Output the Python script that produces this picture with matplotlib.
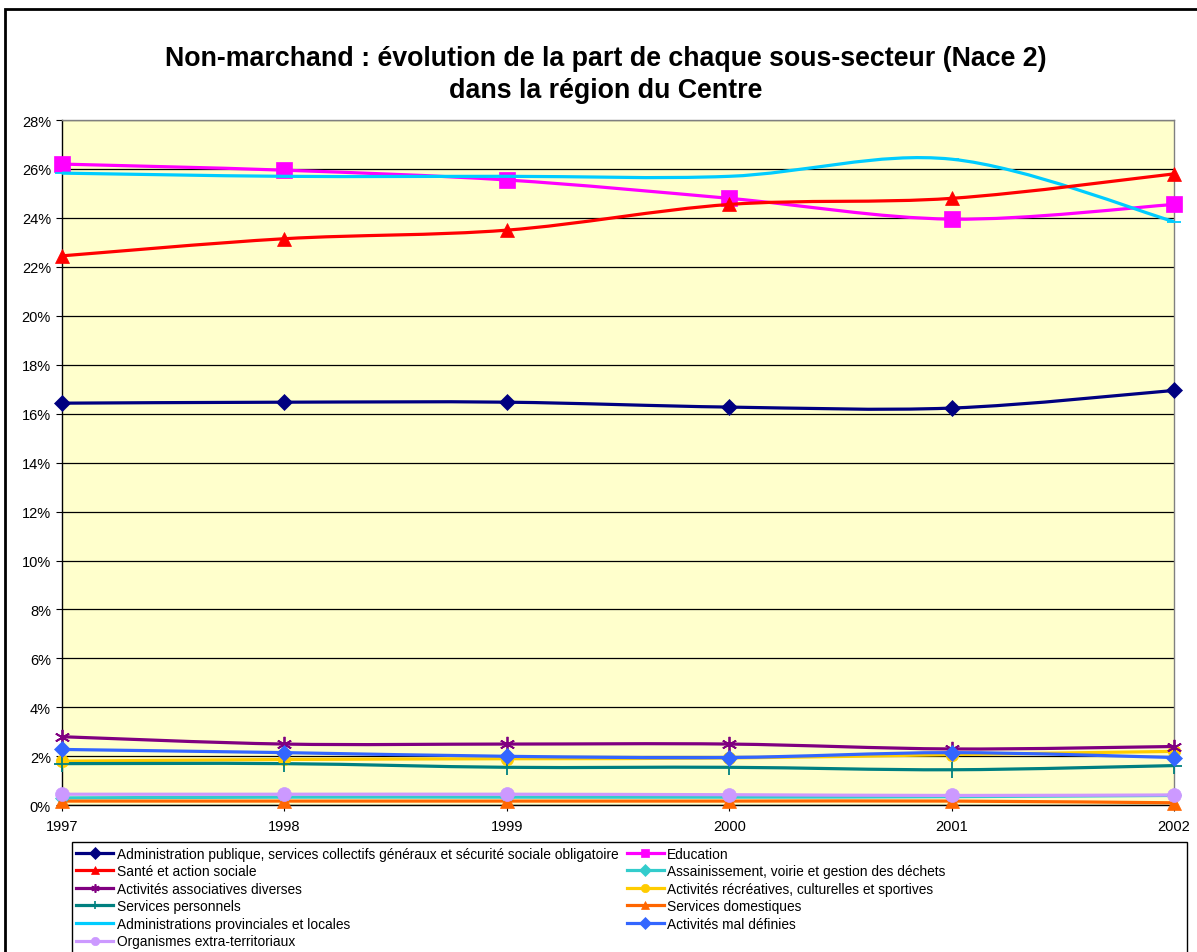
import numpy as np
import matplotlib.pyplot as plt
from matplotlib.path import Path
from matplotlib.patches import PathPatch, Rectangle
from matplotlib.lines import Line2D
from matplotlib.ticker import FuncFormatter, MultipleLocator

plt.rcParams['font.family'] = ['Liberation Sans', 'DejaVu Sans']

years = [1997, 1998, 1999, 2000, 2001, 2002]

admin_publique = [16.43, 16.47, 16.47, 16.27, 16.23, 16.95]
education = [26.2, 25.95, 25.55, 24.8, 23.95, 24.55]
sante = [22.45, 23.15, 23.5, 24.55, 24.8, 25.8]
assainissement = [0.3, 0.33, 0.33, 0.33, 0.35, 0.4]
act_associatives = [2.8, 2.5, 2.5, 2.5, 2.3, 2.4]
act_recreatives = [1.8, 1.87, 1.9, 1.93, 2.07, 2.2]
serv_personnels = [1.7, 1.7, 1.55, 1.55, 1.45, 1.62]
serv_domestiques = [0.17, 0.17, 0.17, 0.17, 0.17, 0.1]
admin_provinciales = [25.83, 25.7, 25.7, 25.7, 26.4, 23.85]
act_mal_definies = [2.28, 2.15, 2.0, 1.95, 2.15, 1.95]
organismes = [0.45, 0.45, 0.45, 0.43, 0.4, 0.42]

labels = [
    "Administration publique, services collectifs généraux et sécurité sociale obligatoire",
    "Education",
    "Santé et action sociale",
    "Assainissement, voirie et gestion des déchets",
    "Activités associatives diverses",
    "Activités récréatives, culturelles et sportives",
    "Services personnels",
    "Services domestiques",
    "Administrations provinciales et locales",
    "Activités mal définies",
    "Organismes extra-territoriaux",
]
series = [admin_publique, education, sante, assainissement, act_associatives,
          act_recreatives, serv_personnels, serv_domestiques, admin_provinciales,
          act_mal_definies, organismes]
colors = ['#000080', '#FF00FF', '#FF0000', '#33CCCC', '#800080', '#FFCC00',
          '#008080', '#FF6600', '#00CCFF', '#3366FF', '#CC99FF']
markers = ['D', 's', '^', 'D', (6, 2, 0), 'o', '+', '^', '_', 'D', 'o']
msizes = [8, 11, 10, 7, 11, 9, 11, 10, 10, 8, 10]
zorders = [5, 4, 6, 3, 5, 4, 4, 3, 5, 6, 3]


def smooth_path(xs, ys):
    # excel-like smoothed line: cubic bezier through every point
    pts = np.column_stack([xs, ys]).astype(float)
    n = len(pts)
    verts = [pts[0]]
    codes = [Path.MOVETO]
    for i in range(n - 1):
        p0 = pts[max(i - 1, 0)]
        p1 = pts[i]
        p2 = pts[i + 1]
        p3 = pts[min(i + 2, n - 1)]
        c1 = p1 + (p2 - p0) / 6.0
        c2 = p2 - (p3 - p1) / 6.0
        verts += [c1, c2, p2]
        codes += [Path.CURVE4] * 3
    return Path(verts, codes)


fig = plt.figure(figsize=(11.97, 9.53), dpi=100)
ax = fig.add_axes([0.0518, 0.154, 0.9290, 0.719])
ax.set_facecolor('#FFFFCC')

for vals, col, mk, ms, z in zip(series, colors, markers, msizes, zorders):
    ax.add_patch(PathPatch(smooth_path(years, vals), fill=False, edgecolor=col,
                           lw=2.3, zorder=z, clip_on=False))
    mew = 1.3 if mk in ('+', '_') or isinstance(mk, tuple) else 0.5
    ax.plot(years, vals, linestyle='none', marker=mk, markersize=ms, color=col,
            markeredgecolor=col, markeredgewidth=mew, zorder=z + 0.5, clip_on=False)

ax.set_xlim(1997, 2002)
ax.set_ylim(0, 28)
ax.set_xticks(years)
ax.yaxis.set_major_locator(MultipleLocator(2))
ax.yaxis.set_major_formatter(FuncFormatter(lambda v, p: f"{v:.0f}%"))
ax.grid(axis='y', color='black', lw=0.9)
ax.set_axisbelow(True)
ax.tick_params(axis='both', labelsize=10.5, direction='out', length=4, width=0.8)
ax.tick_params(axis='x', pad=6)
ax.tick_params(axis='y', pad=4)
for s in ['left', 'bottom']:
    ax.spines[s].set_color('black')
    ax.spines[s].set_linewidth(1.0)
for s in ['top', 'right']:
    ax.spines[s].set_color('#808080')
    ax.spines[s].set_linewidth(1.0)

fig.text(0.506, 0.938, "Non-marchand : évolution de la part de chaque sous-secteur (Nace 2)",
         ha='center', va='center', fontsize=19.3, fontweight='bold')
fig.text(0.506, 0.905, "dans la région du Centre",
         ha='center', va='center', fontsize=19.3, fontweight='bold')

# outer chart frame
fig.patches.append(Rectangle((0.004, -0.05), 1.2, 1.04, transform=fig.transFigure,
                             fill=False, edgecolor='black', lw=2.0))

# legend frame
fig.patches.append(Rectangle((72 / 1197, -0.01), (1187 - 72) / 1197, 1 - 843 / 953 + 0.01,
                             transform=fig.transFigure, fill=False, edgecolor='black', lw=1.0))

handles = []
for col, mk, lab in zip(colors, markers, labels):
    mew = 1.2 if mk in ('+', '_') or isinstance(mk, tuple) else 0.5
    handles.append(Line2D([], [], color=col, lw=2.3, marker=mk, markersize=6,
                          markeredgecolor=col, markeredgewidth=mew, label=lab))
order = [0, 2, 4, 6, 8, 10, 1, 3, 5, 7, 9]
fig.legend([handles[i] for i in order], [labels[i] for i in order],
           loc='upper left', bbox_to_anchor=(0.0615, 0.1135), ncol=2, frameon=False,
           fontsize=9.9, handlelength=2.7, handletextpad=0.25, columnspacing=0.6,
           labelspacing=0.26, borderpad=0.2, borderaxespad=0)

fig.savefig('out.png', dpi=100, facecolor='white')
